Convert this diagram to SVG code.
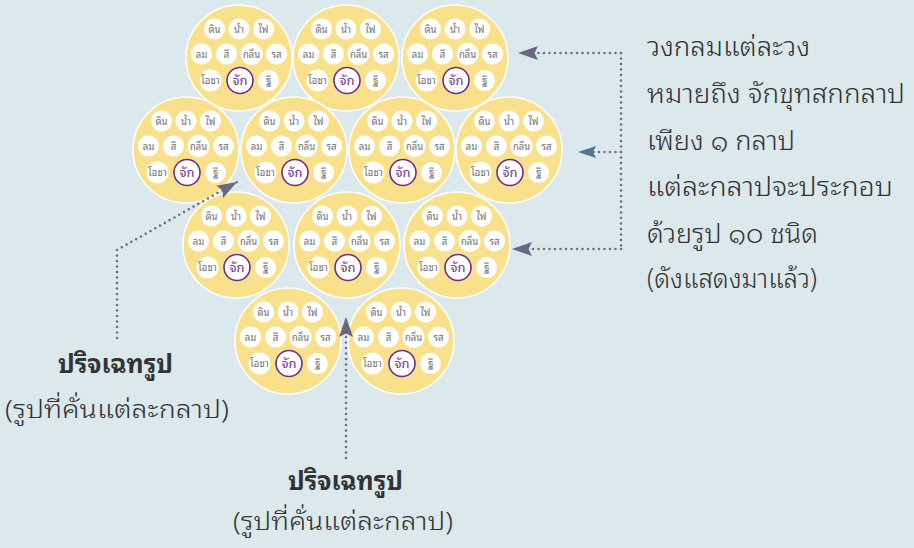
<svg xmlns="http://www.w3.org/2000/svg" width="914" height="548" viewBox="0 0 914 548">
<defs>
<style>
.bg{fill:#dbe9ec}
.k{fill:#f9e18c;stroke:#ffffff;stroke-width:1.5}
.s{fill:#ffffff}
.j{fill:#ffffff;stroke:#6b2d8e;stroke-width:1.6}
.t{font-family:"Noto Sans Thai Looped","Noto Sans Thai","Loma","Garuda","Noto Sans",sans-serif;font-size:9.5px;fill:#6e6e6e;text-anchor:middle}
.tj{font-family:"Noto Sans Thai Looped","Noto Sans Thai","Loma","Garuda","Noto Sans",sans-serif;font-size:13px;fill:#6b2d8e;text-anchor:middle}
.big{font-family:"Noto Sans Thai Looped","Noto Sans Thai","Loma","Garuda","Noto Sans",sans-serif;font-size:27px;fill:#333333;font-weight:300}
.lb{font-family:"Noto Sans Thai Looped","Noto Sans Thai","Loma","Garuda","Noto Sans",sans-serif;font-size:26px;fill:#333333;font-weight:bold;text-anchor:middle}
.ls{font-family:"Noto Sans Thai Looped","Noto Sans Thai","Loma","Garuda","Noto Sans",sans-serif;font-size:25px;fill:#333333;font-weight:300;text-anchor:middle}
.dot{fill:none;stroke:#6e6e80;stroke-width:2.6;stroke-linecap:round;stroke-dasharray:0 5.5}
</style>
<marker id="ah" viewBox="-20 -8 21 16" refX="0" refY="0" markerWidth="21" markerHeight="16" markerUnits="userSpaceOnUse" orient="auto">
<path d="M0,0 L-20,-7 L-16.5,0 L-20,7 Z" fill="#6a6880"/>
</marker>
<marker id="ahb" viewBox="-20 -8 21 16" refX="0" refY="0" markerWidth="21" markerHeight="16" markerUnits="userSpaceOnUse" orient="auto">
<path d="M0,0 L-18,-6 L-15,0 L-18,6 Z" fill="#557590"/>
</marker>
</defs>
<rect class="bg" x="0" y="0" width="914" height="548"/>

<g id="kalapa-1" transform="translate(239,58)">
<circle class="k" r="53"/>
<circle class="s" cx="-24.5" cy="-29" r="10.5"/><circle class="s" cx="0" cy="-29" r="10.5"/><circle class="s" cx="24.5" cy="-29" r="10.5"/>
<circle class="s" cx="-37.5" cy="-4" r="10.5"/><circle class="s" cx="-12.5" cy="-4" r="10.5"/><circle class="s" cx="12.5" cy="-4" r="11"/><circle class="s" cx="37.5" cy="-4" r="10.5"/>
<circle class="s" cx="-28.5" cy="22.5" r="11"/><circle class="j" cx="1" cy="22.5" r="13"/><circle class="s" cx="29.5" cy="22.5" r="10.5"/>
<text class="t" x="-24.5" y="-25.5">ดิน</text><text class="t" x="0" y="-25.5">น้ำ</text><text class="t" x="24.5" y="-25.5">ไฟ</text>
<text class="t" x="-37.5" y="-0.5">ลม</text><text class="t" x="-12.5" y="-0.5">สี</text><text class="t" x="12.5" y="-0.5">กลิ่น</text><text class="t" x="37.5" y="-0.5">รส</text>
<text class="t" x="-28.5" y="26">โอชา</text><text class="tj" x="1" y="27">จัก</text><text class="t" x="29.5" y="26">ฐี</text>
</g>
<g id="kalapa-2" transform="translate(346,58)">
<circle class="k" r="53"/>
<circle class="s" cx="-24.5" cy="-29" r="10.5"/><circle class="s" cx="0" cy="-29" r="10.5"/><circle class="s" cx="24.5" cy="-29" r="10.5"/>
<circle class="s" cx="-37.5" cy="-4" r="10.5"/><circle class="s" cx="-12.5" cy="-4" r="10.5"/><circle class="s" cx="12.5" cy="-4" r="11"/><circle class="s" cx="37.5" cy="-4" r="10.5"/>
<circle class="s" cx="-28.5" cy="22.5" r="11"/><circle class="j" cx="1" cy="22.5" r="13"/><circle class="s" cx="29.5" cy="22.5" r="10.5"/>
<text class="t" x="-24.5" y="-25.5">ดิน</text><text class="t" x="0" y="-25.5">น้ำ</text><text class="t" x="24.5" y="-25.5">ไฟ</text>
<text class="t" x="-37.5" y="-0.5">ลม</text><text class="t" x="-12.5" y="-0.5">สี</text><text class="t" x="12.5" y="-0.5">กลิ่น</text><text class="t" x="37.5" y="-0.5">รส</text>
<text class="t" x="-28.5" y="26">โอชา</text><text class="tj" x="1" y="27">จัก</text><text class="t" x="29.5" y="26">ฐี</text>
</g>
<g id="kalapa-3" transform="translate(455,58)">
<circle class="k" r="53"/>
<circle class="s" cx="-24.5" cy="-29" r="10.5"/><circle class="s" cx="0" cy="-29" r="10.5"/><circle class="s" cx="24.5" cy="-29" r="10.5"/>
<circle class="s" cx="-37.5" cy="-4" r="10.5"/><circle class="s" cx="-12.5" cy="-4" r="10.5"/><circle class="s" cx="12.5" cy="-4" r="11"/><circle class="s" cx="37.5" cy="-4" r="10.5"/>
<circle class="s" cx="-28.5" cy="22.5" r="11"/><circle class="j" cx="1" cy="22.5" r="13"/><circle class="s" cx="29.5" cy="22.5" r="10.5"/>
<text class="t" x="-24.5" y="-25.5">ดิน</text><text class="t" x="0" y="-25.5">น้ำ</text><text class="t" x="24.5" y="-25.5">ไฟ</text>
<text class="t" x="-37.5" y="-0.5">ลม</text><text class="t" x="-12.5" y="-0.5">สี</text><text class="t" x="12.5" y="-0.5">กลิ่น</text><text class="t" x="37.5" y="-0.5">รส</text>
<text class="t" x="-28.5" y="26">โอชา</text><text class="tj" x="1" y="27">จัก</text><text class="t" x="29.5" y="26">ฐี</text>
</g>
<g id="kalapa-4" transform="translate(186,150)">
<circle class="k" r="53"/>
<circle class="s" cx="-24.5" cy="-29" r="10.5"/><circle class="s" cx="0" cy="-29" r="10.5"/><circle class="s" cx="24.5" cy="-29" r="10.5"/>
<circle class="s" cx="-37.5" cy="-4" r="10.5"/><circle class="s" cx="-12.5" cy="-4" r="10.5"/><circle class="s" cx="12.5" cy="-4" r="11"/><circle class="s" cx="37.5" cy="-4" r="10.5"/>
<circle class="s" cx="-28.5" cy="22.5" r="11"/><circle class="j" cx="1" cy="22.5" r="13"/><circle class="s" cx="29.5" cy="22.5" r="10.5"/>
<text class="t" x="-24.5" y="-25.5">ดิน</text><text class="t" x="0" y="-25.5">น้ำ</text><text class="t" x="24.5" y="-25.5">ไฟ</text>
<text class="t" x="-37.5" y="-0.5">ลม</text><text class="t" x="-12.5" y="-0.5">สี</text><text class="t" x="12.5" y="-0.5">กลิ่น</text><text class="t" x="37.5" y="-0.5">รส</text>
<text class="t" x="-28.5" y="26">โอชา</text><text class="tj" x="1" y="27">จัก</text><text class="t" x="29.5" y="26">ฐี</text>
</g>
<g id="kalapa-5" transform="translate(294,150)">
<circle class="k" r="53"/>
<circle class="s" cx="-24.5" cy="-29" r="10.5"/><circle class="s" cx="0" cy="-29" r="10.5"/><circle class="s" cx="24.5" cy="-29" r="10.5"/>
<circle class="s" cx="-37.5" cy="-4" r="10.5"/><circle class="s" cx="-12.5" cy="-4" r="10.5"/><circle class="s" cx="12.5" cy="-4" r="11"/><circle class="s" cx="37.5" cy="-4" r="10.5"/>
<circle class="s" cx="-28.5" cy="22.5" r="11"/><circle class="j" cx="1" cy="22.5" r="13"/><circle class="s" cx="29.5" cy="22.5" r="10.5"/>
<text class="t" x="-24.5" y="-25.5">ดิน</text><text class="t" x="0" y="-25.5">น้ำ</text><text class="t" x="24.5" y="-25.5">ไฟ</text>
<text class="t" x="-37.5" y="-0.5">ลม</text><text class="t" x="-12.5" y="-0.5">สี</text><text class="t" x="12.5" y="-0.5">กลิ่น</text><text class="t" x="37.5" y="-0.5">รส</text>
<text class="t" x="-28.5" y="26">โอชา</text><text class="tj" x="1" y="27">จัก</text><text class="t" x="29.5" y="26">ฐี</text>
</g>
<g id="kalapa-6" transform="translate(402,150)">
<circle class="k" r="53"/>
<circle class="s" cx="-24.5" cy="-29" r="10.5"/><circle class="s" cx="0" cy="-29" r="10.5"/><circle class="s" cx="24.5" cy="-29" r="10.5"/>
<circle class="s" cx="-37.5" cy="-4" r="10.5"/><circle class="s" cx="-12.5" cy="-4" r="10.5"/><circle class="s" cx="12.5" cy="-4" r="11"/><circle class="s" cx="37.5" cy="-4" r="10.5"/>
<circle class="s" cx="-28.5" cy="22.5" r="11"/><circle class="j" cx="1" cy="22.5" r="13"/><circle class="s" cx="29.5" cy="22.5" r="10.5"/>
<text class="t" x="-24.5" y="-25.5">ดิน</text><text class="t" x="0" y="-25.5">น้ำ</text><text class="t" x="24.5" y="-25.5">ไฟ</text>
<text class="t" x="-37.5" y="-0.5">ลม</text><text class="t" x="-12.5" y="-0.5">สี</text><text class="t" x="12.5" y="-0.5">กลิ่น</text><text class="t" x="37.5" y="-0.5">รส</text>
<text class="t" x="-28.5" y="26">โอชา</text><text class="tj" x="1" y="27">จัก</text><text class="t" x="29.5" y="26">ฐี</text>
</g>
<g id="kalapa-7" transform="translate(509,150)">
<circle class="k" r="53"/>
<circle class="s" cx="-24.5" cy="-29" r="10.5"/><circle class="s" cx="0" cy="-29" r="10.5"/><circle class="s" cx="24.5" cy="-29" r="10.5"/>
<circle class="s" cx="-37.5" cy="-4" r="10.5"/><circle class="s" cx="-12.5" cy="-4" r="10.5"/><circle class="s" cx="12.5" cy="-4" r="11"/><circle class="s" cx="37.5" cy="-4" r="10.5"/>
<circle class="s" cx="-28.5" cy="22.5" r="11"/><circle class="j" cx="1" cy="22.5" r="13"/><circle class="s" cx="29.5" cy="22.5" r="10.5"/>
<text class="t" x="-24.5" y="-25.5">ดิน</text><text class="t" x="0" y="-25.5">น้ำ</text><text class="t" x="24.5" y="-25.5">ไฟ</text>
<text class="t" x="-37.5" y="-0.5">ลม</text><text class="t" x="-12.5" y="-0.5">สี</text><text class="t" x="12.5" y="-0.5">กลิ่น</text><text class="t" x="37.5" y="-0.5">รส</text>
<text class="t" x="-28.5" y="26">โอชา</text><text class="tj" x="1" y="27">จัก</text><text class="t" x="29.5" y="26">ฐี</text>
</g>
<g id="kalapa-8" transform="translate(236,245)">
<circle class="k" r="53"/>
<circle class="s" cx="-24.5" cy="-29" r="10.5"/><circle class="s" cx="0" cy="-29" r="10.5"/><circle class="s" cx="24.5" cy="-29" r="10.5"/>
<circle class="s" cx="-37.5" cy="-4" r="10.5"/><circle class="s" cx="-12.5" cy="-4" r="10.5"/><circle class="s" cx="12.5" cy="-4" r="11"/><circle class="s" cx="37.5" cy="-4" r="10.5"/>
<circle class="s" cx="-28.5" cy="22.5" r="11"/><circle class="j" cx="1" cy="22.5" r="13"/><circle class="s" cx="29.5" cy="22.5" r="10.5"/>
<text class="t" x="-24.5" y="-25.5">ดิน</text><text class="t" x="0" y="-25.5">น้ำ</text><text class="t" x="24.5" y="-25.5">ไฟ</text>
<text class="t" x="-37.5" y="-0.5">ลม</text><text class="t" x="-12.5" y="-0.5">สี</text><text class="t" x="12.5" y="-0.5">กลิ่น</text><text class="t" x="37.5" y="-0.5">รส</text>
<text class="t" x="-28.5" y="26">โอชา</text><text class="tj" x="1" y="27">จัก</text><text class="t" x="29.5" y="26">ฐี</text>
</g>
<g id="kalapa-9" transform="translate(347,245)">
<circle class="k" r="53"/>
<circle class="s" cx="-24.5" cy="-29" r="10.5"/><circle class="s" cx="0" cy="-29" r="10.5"/><circle class="s" cx="24.5" cy="-29" r="10.5"/>
<circle class="s" cx="-37.5" cy="-4" r="10.5"/><circle class="s" cx="-12.5" cy="-4" r="10.5"/><circle class="s" cx="12.5" cy="-4" r="11"/><circle class="s" cx="37.5" cy="-4" r="10.5"/>
<circle class="s" cx="-28.5" cy="22.5" r="11"/><circle class="j" cx="1" cy="22.5" r="13"/><circle class="s" cx="29.5" cy="22.5" r="10.5"/>
<text class="t" x="-24.5" y="-25.5">ดิน</text><text class="t" x="0" y="-25.5">น้ำ</text><text class="t" x="24.5" y="-25.5">ไฟ</text>
<text class="t" x="-37.5" y="-0.5">ลม</text><text class="t" x="-12.5" y="-0.5">สี</text><text class="t" x="12.5" y="-0.5">กลิ่น</text><text class="t" x="37.5" y="-0.5">รส</text>
<text class="t" x="-28.5" y="26">โอชา</text><text class="tj" x="1" y="27">จัก</text><text class="t" x="29.5" y="26">ฐี</text>
</g>
<g id="kalapa-10" transform="translate(457,245)">
<circle class="k" r="53"/>
<circle class="s" cx="-24.5" cy="-29" r="10.5"/><circle class="s" cx="0" cy="-29" r="10.5"/><circle class="s" cx="24.5" cy="-29" r="10.5"/>
<circle class="s" cx="-37.5" cy="-4" r="10.5"/><circle class="s" cx="-12.5" cy="-4" r="10.5"/><circle class="s" cx="12.5" cy="-4" r="11"/><circle class="s" cx="37.5" cy="-4" r="10.5"/>
<circle class="s" cx="-28.5" cy="22.5" r="11"/><circle class="j" cx="1" cy="22.5" r="13"/><circle class="s" cx="29.5" cy="22.5" r="10.5"/>
<text class="t" x="-24.5" y="-25.5">ดิน</text><text class="t" x="0" y="-25.5">น้ำ</text><text class="t" x="24.5" y="-25.5">ไฟ</text>
<text class="t" x="-37.5" y="-0.5">ลม</text><text class="t" x="-12.5" y="-0.5">สี</text><text class="t" x="12.5" y="-0.5">กลิ่น</text><text class="t" x="37.5" y="-0.5">รส</text>
<text class="t" x="-28.5" y="26">โอชา</text><text class="tj" x="1" y="27">จัก</text><text class="t" x="29.5" y="26">ฐี</text>
</g>
<g id="kalapa-11" transform="translate(288,341)">
<circle class="k" r="53"/>
<circle class="s" cx="-24.5" cy="-29" r="10.5"/><circle class="s" cx="0" cy="-29" r="10.5"/><circle class="s" cx="24.5" cy="-29" r="10.5"/>
<circle class="s" cx="-37.5" cy="-4" r="10.5"/><circle class="s" cx="-12.5" cy="-4" r="10.5"/><circle class="s" cx="12.5" cy="-4" r="11"/><circle class="s" cx="37.5" cy="-4" r="10.5"/>
<circle class="s" cx="-28.5" cy="22.5" r="11"/><circle class="j" cx="1" cy="22.5" r="13"/><circle class="s" cx="29.5" cy="22.5" r="10.5"/>
<text class="t" x="-24.5" y="-25.5">ดิน</text><text class="t" x="0" y="-25.5">น้ำ</text><text class="t" x="24.5" y="-25.5">ไฟ</text>
<text class="t" x="-37.5" y="-0.5">ลม</text><text class="t" x="-12.5" y="-0.5">สี</text><text class="t" x="12.5" y="-0.5">กลิ่น</text><text class="t" x="37.5" y="-0.5">รส</text>
<text class="t" x="-28.5" y="26">โอชา</text><text class="tj" x="1" y="27">จัก</text><text class="t" x="29.5" y="26">ฐี</text>
</g>
<g id="kalapa-12" transform="translate(401,341)">
<circle class="k" r="53"/>
<circle class="s" cx="-24.5" cy="-29" r="10.5"/><circle class="s" cx="0" cy="-29" r="10.5"/><circle class="s" cx="24.5" cy="-29" r="10.5"/>
<circle class="s" cx="-37.5" cy="-4" r="10.5"/><circle class="s" cx="-12.5" cy="-4" r="10.5"/><circle class="s" cx="12.5" cy="-4" r="11"/><circle class="s" cx="37.5" cy="-4" r="10.5"/>
<circle class="s" cx="-28.5" cy="22.5" r="11"/><circle class="j" cx="1" cy="22.5" r="13"/><circle class="s" cx="29.5" cy="22.5" r="10.5"/>
<text class="t" x="-24.5" y="-25.5">ดิน</text><text class="t" x="0" y="-25.5">น้ำ</text><text class="t" x="24.5" y="-25.5">ไฟ</text>
<text class="t" x="-37.5" y="-0.5">ลม</text><text class="t" x="-12.5" y="-0.5">สี</text><text class="t" x="12.5" y="-0.5">กลิ่น</text><text class="t" x="37.5" y="-0.5">รส</text>
<text class="t" x="-28.5" y="26">โอชา</text><text class="tj" x="1" y="27">จัก</text><text class="t" x="29.5" y="26">ฐี</text>
</g>

<g id="connectors">
<path class="dot" d="M621,53 V249"/>
<path class="dot" d="M621,53 H518" marker-end="url(#ah)"/>
<path class="dot" d="M621,152 H578" marker-end="url(#ahb)"/>
<path class="dot" d="M621,249 H512" marker-end="url(#ah)"/>
<path class="dot" d="M117,338 V250 L237,182" marker-end="url(#ah)"/>
<path class="dot" d="M346,458 V317" marker-end="url(#ah)"/>
</g>

<g id="note-right">
<text class="big" x="647" y="56" textLength="163" lengthAdjust="spacingAndGlyphs">วงกลมแต่ละวง</text>
<text class="big" x="647" y="103" textLength="258" lengthAdjust="spacingAndGlyphs">หมายถึง จักขุทสกกลาป</text>
<text class="big" x="647" y="149.5" textLength="148" lengthAdjust="spacingAndGlyphs">เพียง ๑ กลาป</text>
<text class="big" x="647" y="196" textLength="246" lengthAdjust="spacingAndGlyphs">แต่ละกลาปจะประกอบ</text>
<text class="big" x="647" y="242.5" textLength="171" lengthAdjust="spacingAndGlyphs">ด้วยรูป ๑๐ ชนิด</text>
<text class="big" x="647" y="288" textLength="170" lengthAdjust="spacingAndGlyphs">(ดังแสดงมาแล้ว)</text>
</g>

<g id="label-left">
<text class="lb" x="115.5" y="373" textLength="115" lengthAdjust="spacingAndGlyphs">ปริจเฉทรูป</text>
<text class="ls" x="117" y="418" textLength="224" lengthAdjust="spacingAndGlyphs">(รูปที่คั่นแต่ละกลาป)</text>
</g>

<g id="label-bottom">
<text class="lb" x="345.5" y="490" textLength="115" lengthAdjust="spacingAndGlyphs">ปริจเฉทรูป</text>
<text class="ls" x="343" y="530" textLength="220" lengthAdjust="spacingAndGlyphs">(รูปที่คั่นแต่ละกลาป)</text>
</g>
</svg>
